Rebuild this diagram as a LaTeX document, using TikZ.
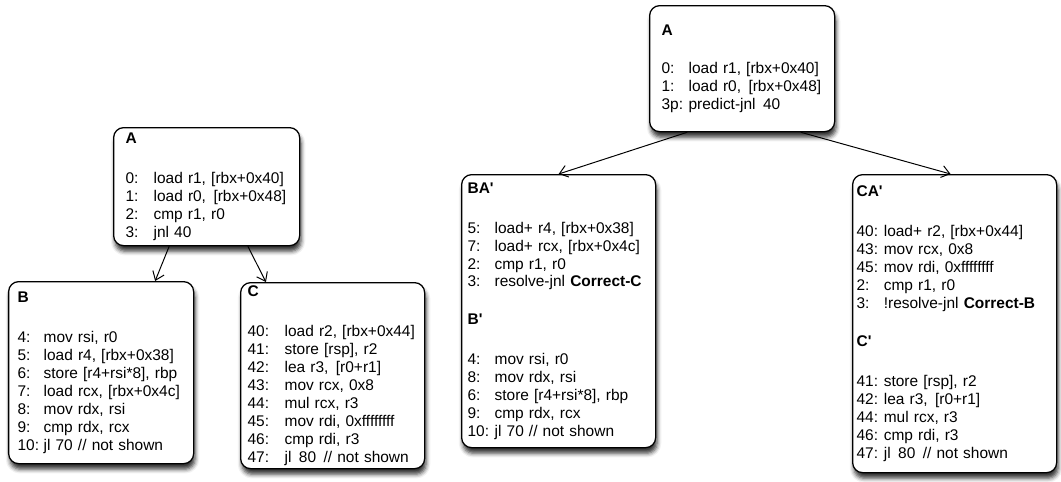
\documentclass[tikz,border=0pt]{standalone}
\usepackage{fontspec}
\setmainfont{Liberation Sans}
\usetikzlibrary{positioning, arrows.meta, calc, shadows.blur}

\newlength{\numcol}
\newcommand{\instr}[2]{\makebox[\numcol][l]{#1}#2}
\newcommand{\wsp}{\ \hspace{0.15em}}

\begin{document}
\begin{tikzpicture}[
    arrow/.style={-{Straight Barb[length=2mm, width=3mm]}, line width=0.7pt},
    block/.style={draw, line width=0.9pt, rounded corners=0.25cm, fill=white,
        anchor=north west, align=left, inner ysep=0pt,
        font=\fontsize{11}{12.75}\selectfont,
        blur shadow={shadow xshift=1pt, shadow yshift=-4pt, shadow blur radius=3pt, shadow opacity=80}},
    numcol/.code={\setlength{\numcol}{#1}}
]
    \useasboundingbox (0, 0) rectangle (26.525, -12.025);

    % === Original code ===
    \node[block, inner xsep=0.3cm, text width=4.05cm, minimum height=2.95cm, numcol=0.7cm]
        (leftA) at (2.825, -3.175) {\textbf{A}\\[0.55cm]
        \instr{0:}{load r1, [rbx+0x40]}\\
        \instr{1:}{load r0,\wsp[rbx+0x48]}\\
        \instr{2:}{cmp r1, r0}\\
        \instr{3:}{jnl 40}};

    \node[block, inner xsep=0.225cm, text width=4.175cm, minimum height=4.55cm, numcol=0.65cm]
        (blockB) at (0.2, -7.025) {\textbf{B}\\[0.55cm]
        \instr{4:}{mov rsi, r0}\\
        \instr{5:}{load r4, [rbx+0x38]}\\
        \instr{6:}{store [r4+rsi*8], rbp}\\
        \instr{7:}{load rcx, [rbx+0x4c]}\\
        \instr{8:}{mov rdx, rsi}\\
        \instr{9:}{cmp rdx, rcx}\\
        \instr{10:}{jl 70 // not shown}};

    \node[block, inner xsep=0.175cm, text width=4.25cm, minimum height=4.65cm, numcol=0.925cm]
        (blockC) at (6.0, -7.05) {\textbf{C}\\[0.55cm]
        \instr{40:}{load r2, [rbx+0x44]}\\
        \instr{41:}{store [rsp], r2}\\
        \instr{42:}{lea r3,\wsp[r0+r1]}\\
        \instr{43:}{mov rcx, 0x8}\\
        \instr{44:}{mul rcx, r3}\\
        \instr{45:}{mov rdi, 0xffffffff}\\
        \instr{46:}{cmp rdi, r3}\\
        \instr{47:}{jl\wsp80\wsp// not shown}};

    \draw[arrow] ($(leftA.south west)!0.30!(leftA.south east)$) -- ($(blockB.north west)!0.79!(blockB.north east)$);
    \draw[arrow] ($(leftA.south west)!0.72!(leftA.south east)$) -- ($(blockC.north west)!0.14!(blockC.north east)$);

    % === Predicated code ===
    \node[block, inner xsep=0.3cm, text width=4.025cm, minimum height=3.15cm, numcol=0.675cm]
        (rightA) at (16.225, -0.125) {\textbf{A}\\[0.5cm]
        \instr{0:}{load r1, [rbx+0x40]}\\
        \instr{1:}{load r0,\wsp[rbx+0x48]}\\
        \instr{3p:}{predict-jnl\wsp40}};

    \node[block, inner xsep=0.15cm, text width=4.55cm, minimum height=6.825cm, numcol=0.675cm]
        (blockBA) at (11.525, -4.35) {\textbf{BA\textquotesingle}\\[0.55cm]
        \instr{5:}{load+ r4, [rbx+0x38]}\\
        \instr{7:}{load+ rcx, [rbx+0x4c]}\\
        \instr{2:}{cmp r1, r0}\\
        \instr{3:}{resolve-jnl \textbf{Correct-C}}\\[0.5cm]
        \textbf{B\textquotesingle}\\[0.55cm]
        \instr{4:}{mov rsi, r0}\\
        \instr{8:}{mov rdx, rsi}\\
        \instr{6:}{store [r4+rsi*8], rbp}\\
        \instr{9:}{cmp rdx, rcx}\\
        \instr{10:}{jl 70 // not shown}};

    \node[block, inner xsep=0.1cm, text width=4.9cm, minimum height=7.45cm, numcol=0.68cm]
        (blockCA) at (21.3, -4.35) {\textbf{CA\textquotesingle}\\[0.55cm]
        \instr{40:}{load+ r2, [rbx+0x44]}\\
        \instr{43:}{mov rcx, 0x8}\\
        \instr{45:}{mov rdi, 0xffffffff}\\
        \instr{2:}{cmp r1, r0}\\
        \instr{3:}{!resolve-jnl \textbf{Correct-B}}\\[0.5cm]
        \textbf{C\textquotesingle}\\[0.55cm]
        \instr{41:}{store [rsp], r2}\\
        \instr{42:}{lea r3,\wsp[r0+r1]}\\
        \instr{44:}{mul rcx, r3}\\
        \instr{46:}{cmp rdi, r3}\\
        \instr{47:}{jl\wsp80\wsp// not shown}};

    \draw[arrow] ($(rightA.south west)!0.205!(rightA.south east)$) -- (blockBA.north);
    \draw[arrow] ($(rightA.south west)!0.815!(rightA.south east)$) -- ($(blockCA.north west)!0.48!(blockCA.north east)$);

\end{tikzpicture}
\end{document}
